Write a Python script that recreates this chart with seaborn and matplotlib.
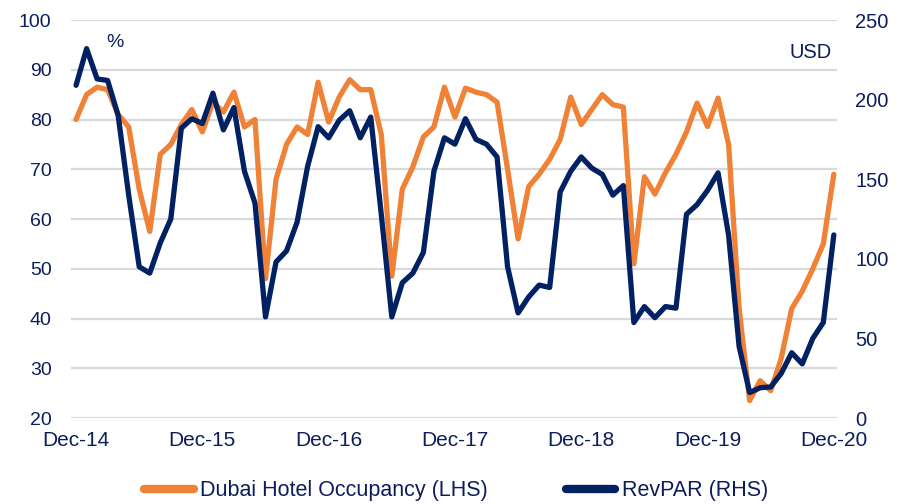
import matplotlib
matplotlib.use("Agg")
import matplotlib.pyplot as plt
import seaborn as sns
import pandas as pd
import numpy as np

# Monthly series, Dec-2014 .. Dec-2020
occupancy = [80, 85, 86.5, 86, 81, 78.5, 66, 57.5, 73, 75, 79, 82,
             77.5, 83.5, 81.5, 85.5, 78.5, 80, 48, 68, 75, 78.5, 77, 87.5,
             79.5, 84.5, 88, 86, 86, 77, 48.5, 66, 70.5, 76.5, 78.5, 86.5,
             80.5, 86.3, 85.5, 85, 83.5, 70, 56, 66.5, 69, 72, 76, 84.5,
             79, 82, 85, 83, 82.5, 51, 68.5, 65, 69.3, 73, 77.5, 83.3,
             78.6, 84.3, 75, 42, 23.5, 27.5, 25.5, 32, 42, 45.5, 50, 55, 69]
revpar = [209, 232, 213, 212, 190, 140, 95, 91, 110, 125, 182, 188,
          185, 204, 181, 195, 155, 135, 63.5, 98, 105, 123, 158, 183,
          176, 187, 193, 176, 189, 128, 63.5, 85, 91, 104, 155, 176,
          172, 188, 175, 172, 164, 95, 66, 76, 83.5, 82, 142, 155,
          164, 157, 153, 140, 146, 60, 70, 63, 70, 69, 128, 134,
          143, 154, 115, 45, 16, 19, 19.5, 28, 41, 34, 50, 60, 115]
tick_labels = ["Dec-14", "Dec-15", "Dec-16", "Dec-17", "Dec-18", "Dec-19", "Dec-20"]
occ_label = "Dubai Hotel Occupancy (LHS)"
rev_label = "RevPAR (RHS)"

ORANGE = "#EF8236"
NAVY = "#012162"
TEXT = "#0B1E5B"
GRID = "#D9D9D9"

sns.set_theme(style="white")
plt.rcParams["font.family"] = ["Liberation Sans", "DejaVu Sans"]

df = pd.DataFrame({"month": np.arange(len(occupancy)),
                   "occ": occupancy, "rev": revpar})

fig = plt.figure(figsize=(9.07, 5.04), dpi=100)
ax = fig.add_axes([0.0783, 0.1706, 0.8445, 0.7897])
ax2 = ax.twinx()

sns.lineplot(data=df, x="month", y="occ", ax=ax, color=ORANGE, linewidth=3.8,
             solid_joinstyle="round", solid_capstyle="round", legend=False)
sns.lineplot(data=df, x="month", y="rev", ax=ax2, color=NAVY, linewidth=3.8,
             solid_joinstyle="round", solid_capstyle="round", legend=False)

ax.set_xlim(-0.48, 72.3)
ax.set_ylim(20, 100)
ax2.set_ylim(0, 250)
ax.set_yticks(np.arange(20, 101, 10))
ax2.set_yticks(np.arange(0, 251, 50))
ax.set_xticks(np.arange(0, 73, 12))
ax.set_xticklabels(tick_labels)

ax.yaxis.grid(True, color=GRID, linewidth=1.6)
ax.set_axisbelow(True)
for a in (ax, ax2):
    for s in a.spines.values():
        s.set_visible(False)
    a.set_xlabel("")
    a.set_ylabel("")

ax.tick_params(axis="y", length=0, pad=14, labelsize=14, labelcolor=TEXT)
ax.tick_params(axis="x", length=0, pad=9, labelsize=15, labelcolor=TEXT)
ax2.tick_params(axis="y", length=0, pad=13, labelsize=14.5, labelcolor=TEXT)

ax.text(0.0574, 0.943, "%", transform=ax.transAxes, ha="center", va="center",
        fontsize=14, color=TEXT)
ax.text(0.9935, 0.918, "USD", transform=ax.transAxes, ha="right", va="center",
        fontsize=14.5, color=TEXT)

handles = [plt.Line2D([], [], color=ORANGE, linewidth=6, solid_capstyle="round"),
           plt.Line2D([], [], color=NAVY, linewidth=6, solid_capstyle="round")]
fig.legend(handles, [occ_label, rev_label], loc="center", ncol=2,
           bbox_to_anchor=(0.503, 0.026), frameon=False, fontsize=15.5,
           labelcolor=TEXT, handlelength=2.3, handletextpad=0.3,
           columnspacing=3.6)

fig.savefig("out.png", dpi=100)
